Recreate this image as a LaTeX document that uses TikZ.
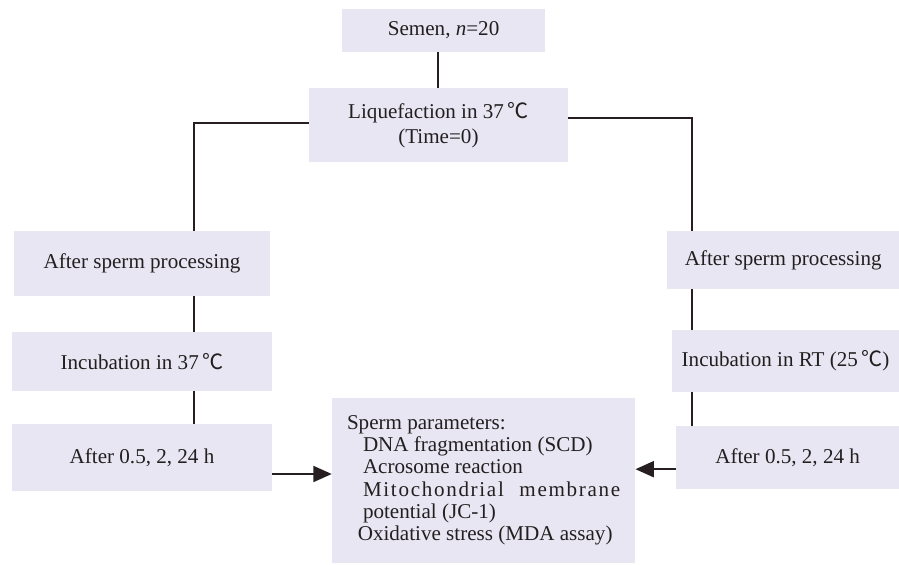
\documentclass[tikz,border=0pt]{standalone}
\usepackage{fontspec}
\setmainfont{Liberation Serif}
\newfontfamily\cjk{Noto Sans CJK SC}
\usepackage{tikz}
\usetikzlibrary{arrows.meta,positioning,calc}
\definecolor{boxfill}{RGB}{232,230,242}
\definecolor{inkline}{RGB}{38,30,32}
\definecolor{inktext}{RGB}{35,31,32}
\newcommand{\degC}{{\cjk ℃}}

\begin{document}
\begin{tikzpicture}[
  stage/.style={fill=boxfill, rectangle, inner sep=0pt, align=center, text=inktext,
    font=\fontsize{15}{18}\selectfont},
  link/.style={draw=inkline, line width=1.4pt},
  arrow/.style={-{Triangle[length=0.46cm,width=0.4cm]}, line width=1.4pt, draw=inkline}
]
  \useasboundingbox (0,0) rectangle (22.475,-14.125);

  % Top
  \node[stage, minimum width=5.08cm, minimum height=1.08cm] (semen) at (11.09,-0.76) {Semen, \textit{n}=20};
  \node[stage, minimum width=6.48cm, minimum height=1.85cm] (liq) at (10.96,-3.13) {Liquefaction in 37\,\degC\\(Time=0)};

  % Left branch
  \node[stage, minimum width=6.4cm, minimum height=1.63cm] (lproc) at (3.55,-6.59) {After sperm processing};
  \node[stage, minimum width=6.5cm, minimum height=1.48cm] (linc) at (3.55,-9.04) {Incubation in 37\,\degC};
  \node[stage, minimum width=6.5cm, minimum height=1.68cm] (lafter) at (3.55,-11.44) {After 0.5, 2, 24 h};

  % Right branch
  \node[stage, minimum width=5.8cm, minimum height=1.45cm] (rproc) at (19.58,-6.5) {After sperm processing};
  \node[stage, minimum width=5.68cm, minimum height=1.55cm] (rinc) at (19.64,-9.03) {Incubation in RT (25\,\degC)};
  \node[stage, minimum width=5.58cm, minimum height=1.58cm] (rafter) at (19.69,-11.44) {After 0.5, 2, 24 h};

  % Outcome
  \node[stage, align=left, minimum width=7.58cm, minimum height=4.13cm,
    font=\fontsize{15}{15.8}\selectfont] (params) at (12.09,-12.01)
    {Sperm parameters:\\
     \hspace*{0.4cm}DNA fragmentation (SCD)\\
     \hspace*{0.4cm}Acrosome reaction\\
     \hspace*{0.4cm}\makebox[6.43cm][s]{\addfontfeature{LetterSpace=8}Mitochondrial\hfil\ membrane}\\
     \hspace*{0.4cm}potential (JC-1)\\
     \hspace*{0.27cm}Oxidative stress (MDA assay)};

  % Bus positions
  \coordinate (lbus) at (4.85,-3.08);
  \coordinate (rbus) at (17.3,-2.95);

  % Connectors
  \draw[link] (semen.south -| liq) -- (liq.north);
  \draw[link] (liq.west |- lbus) -- (lbus) -- (lproc.north -| lbus);
  \draw[link] (liq.east |- rbus) -- (rbus) -- (rproc.north -| rbus);
  \draw[link] (lproc.south -| lbus) -- (linc.north -| lbus);
  \draw[link] (linc.south -| lbus) -- (lafter.north -| lbus);
  \draw[link] (rproc.south -| rbus) -- (rinc.north -| rbus);
  \draw[link] (rinc.south -| rbus) -- (rafter.north -| rbus);

  % Arrows
  \draw[arrow] ([yshift=-0.41cm]lafter.east) -- ([yshift=-0.41cm]lafter.east -| params.west);
  \draw[arrow] ([yshift=-0.29cm]rafter.west) -- ([yshift=-0.29cm]rafter.west -| params.east);
\end{tikzpicture}
\end{document}
